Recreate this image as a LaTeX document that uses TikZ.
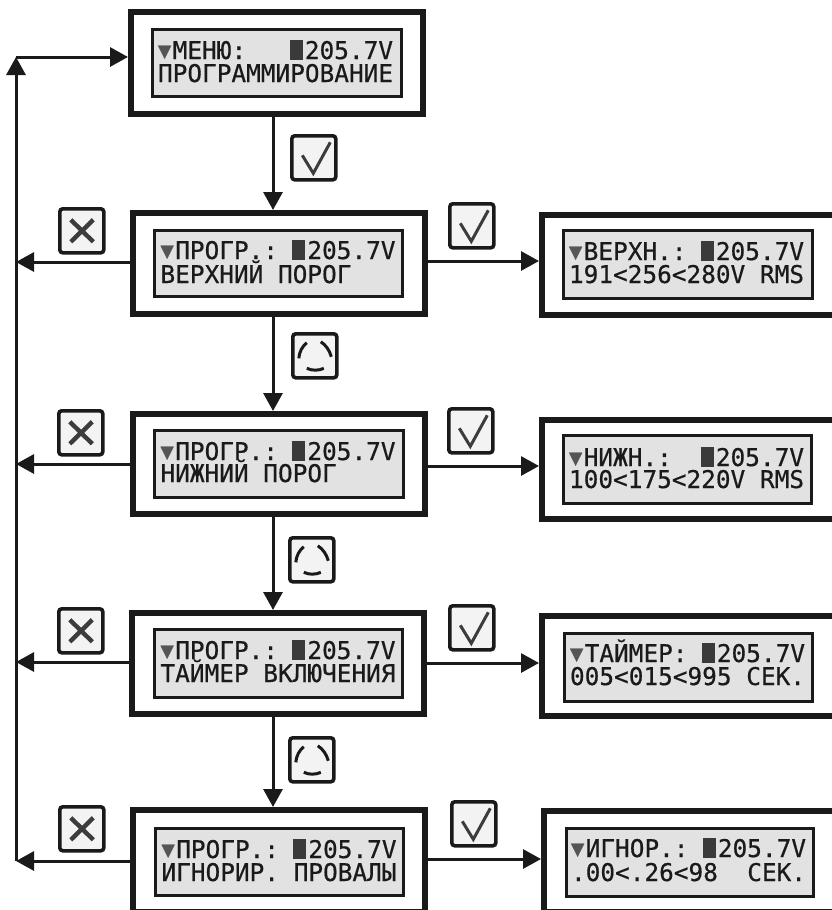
\documentclass[tikz,border=0pt]{standalone}
\usepackage{fontspec}
\usetikzlibrary{arrows.meta}
\newfontfamily\lcdfont[FakeBold=0.5]{DejaVu Sans Mono}
\definecolor{ink}{HTML}{1A1A1A}
\definecolor{lcdbg}{HTML}{E2E2E2}
\definecolor{btnbg}{HTML}{F3F3F3}
\definecolor{markc}{HTML}{3C3C3C}
\definecolor{cursorc}{HTML}{3A3A3A}
\definecolor{triac}{HTML}{555555}
\tikzset{
  outerbox/.style={draw=ink,fill=white,line width=6pt,inner sep=0pt,outer sep=3pt},
  lcdpanel/.style={draw=ink,fill=lcdbg,line width=3pt,inner sep=0pt,outer sep=1.5pt},
  lcdtext/.style={anchor=base west,inner sep=0pt,outer sep=0pt,text=ink,font=\lcdfont\fontsize{24.4}{26}\selectfont},
  cursorbar/.style={fill=cursorc,draw=none,inner sep=0pt,minimum width=13pt,minimum height=20pt,anchor=south west},
  btn/.style={draw=ink,fill=btnbg,line width=3.6pt,rounded corners=3pt,inner sep=0pt,minimum width=44pt,minimum height=44pt,anchor=north west},
  flow/.style={draw=ink,line width=3pt,-{Triangle[length=18pt,width=19pt]}},
  markline/.style={draw=markc,line width=3pt},
  xline/.style={draw=markc,line width=4.4pt},
  ringline/.style={draw=ink,line width=3pt}
}
\newcommand{\frameunit}[5]{\node[outerbox,minimum width={(#4-#2-6)*1pt},minimum height={(#5-#3-6)*1pt}] (#1) at ({(#2+#4)/2},{(#3+#5)/2}) {};}
\newcommand{\panelunit}[5]{\node[lcdpanel,minimum width={(#4-#2-3)*1pt},minimum height={(#5-#3-3)*1pt}] (#1) at ({(#2+#4)/2},{(#3+#5)/2}) {};}
% name, x, baseline 1, baseline 2, line 1, line 2
\newcommand{\lineunit}[6]{%
  \node[cursorbar] (#1c) at ({#2+131.5},{#3+1.5}) {};
  \node[lcdtext] (#1a) at (#2,#3) {\makebox[14.7pt][l]{\raisebox{1pt}{\color{triac}\fontsize{22}{22}\selectfont ▼}}#5};
  \node[lcdtext] (#1b) at (#2,#4) {#6};}
\newcommand{\checkbtn}[3]{\node[btn] (#1) at (#2,#3) {};
  \draw[markline] ([shift={(-11.5,-2.5)}]#1.center) -- ([shift={(-0.5,15.5)}]#1.center) -- ([shift={(16.5,-15.5)}]#1.center);}
\newcommand{\xbtn}[3]{\node[btn] (#1) at (#2,#3) {};
  \draw[xline] ([shift={(-11,-11)}]#1.center) -- ([shift={(11.5,11)}]#1.center);
  \draw[xline] ([shift={(-11,11)}]#1.center) -- ([shift={(11.5,-11)}]#1.center);}
\newcommand{\ringbtn}[3]{\node[btn] (#1) at (#2,#3) {};
  \draw[ringline] ([shift={(-16,2.5)}]#1.center) .. controls ([shift={(-15.5,-4)}]#1.center) and ([shift={(-12.5,-9.5)}]#1.center) .. ([shift={(-8,-13)}]#1.center);
  \draw[ringline] ([shift={(6,-14)}]#1.center) .. controls ([shift={(11,-11)}]#1.center) and ([shift={(15,-5)}]#1.center) .. ([shift={(16.5,1)}]#1.center);
  \draw[ringline] ([shift={(-8,12.5)}]#1.center) .. controls ([shift={(-3,15)}]#1.center) and ([shift={(4,15)}]#1.center) .. ([shift={(9,12.5)}]#1.center);}
\begin{document}
\begin{tikzpicture}[x=1pt,y=-1pt]
\clip (0,0) rectangle (832,910);
\fill[white] (0,0) rectangle (832,910);
% frames
\frameunit{b1}{128}{9}{426}{117}
\frameunit{b2}{130}{210}{428}{317}
\frameunit{b3}{130}{411}{428}{517}
\frameunit{b4}{129}{610}{427}{717}
\frameunit{b5}{130}{807}{428}{915}
\frameunit{r2}{539}{212}{842}{318}
\frameunit{r3}{539}{417}{842}{522}
\frameunit{r4}{539}{613}{842}{719}
\frameunit{r5}{541}{808}{842}{915}
% displays
\panelunit{p1}{151}{28}{403}{98}
\panelunit{p2}{153}{229}{404}{298}
\panelunit{p3}{153}{429}{405}{499}
\panelunit{p4}{153}{628}{404}{699}
\panelunit{p5}{154}{827}{405}{897}
\panelunit{q2}{562}{229}{814}{300}
\panelunit{q3}{562}{434}{813}{505}
\panelunit{q4}{563}{632}{814}{703}
\panelunit{q5}{565}{827}{815}{898}
% texts
\lineunit{t1}{158}{59}{82}{МЕНЮ:~~~~205.7V}{ПРОГРАММИРОВАНИЕ}
\lineunit{t2}{160.5}{259}{283}{ПРОГР.:~~205.7V}{ВЕРХНИЙ ПОРОГ}
\lineunit{t3}{160.5}{460}{482}{ПРОГР.:~~205.7V}{НИЖНИЙ ПОРОГ}
\lineunit{t4}{160.5}{659}{682}{ПРОГР.:~~205.7V}{ТАЙМЕР ВКЛЮЧЕНИЯ}
\lineunit{t5}{161.5}{858}{881}{ПРОГР.:~~205.7V}{ИГНОРИР. ПРОВАЛЫ}
\lineunit{u2}{569}{260}{283}{ВЕРХН.:~~205.7V}{191<256<280V RMS}
\lineunit{u3}{569}{466}{488}{НИЖН.:~~~205.7V}{100<175<220V RMS}
\lineunit{u4}{570}{662}{685}{ТАЙМЕР:~~205.7V}{005<015<995 СЕК.}
\lineunit{u5}{571}{857}{881}{ИГНОР.:~~205.7V}{.00<.26<98~~СЕК.}
% buttons
\checkbtn{c1}{290}{134}
\checkbtn{c2}{448}{202}
\checkbtn{c3}{447}{407}
\checkbtn{c4}{448}{604}
\checkbtn{c5}{450}{800}
\xbtn{x2}{58}{207}
\xbtn{x3}{57}{409}
\xbtn{x4}{57}{607}
\xbtn{x5}{58}{805}
\ringbtn{o2}{291}{332}
\ringbtn{o3}{288}{536}
\ringbtn{o4}{288}{736}
% connector anchors
\coordinate (axis) at (273,0);
\coordinate (j1) at (16,57);
\coordinate (j2) at (16,262);
\coordinate (j3) at (16,464);
\coordinate (j4) at (16,662);
\coordinate (j5) at (16,861);
\coordinate (e2) at (0,261);
\coordinate (e3) at (0,466);
\coordinate (e4) at (0,663);
\coordinate (e5) at (0,859);
% trunk and return arrows
\draw[flow] (j5) -- (j1);
\draw[flow] (j1) -- (b1.west |- j1);
\draw[flow] (b2.west |- j2) -- (j2);
\draw[flow] (b3.west |- j3) -- (j3);
\draw[flow] (b4.west |- j4) -- (j4);
\draw[flow] (b5.west |- j5) -- (j5);
% downward arrows
\draw[flow] (b1.south -| axis) -- (b2.north -| axis);
\draw[flow] (b2.south -| axis) -- (b3.north -| axis);
\draw[flow] (b3.south -| axis) -- (b4.north -| axis);
\draw[flow] (b4.south -| axis) -- (b5.north -| axis);
% arrows to the right
\draw[flow] (b2.east |- e2) -- (r2.west |- e2);
\draw[flow] (b3.east |- e3) -- (r3.west |- e3);
\draw[flow] (b4.east |- e4) -- (r4.west |- e4);
\draw[flow] (b5.east |- e5) -- (r5.west |- e5);
\end{tikzpicture}
\end{document}
